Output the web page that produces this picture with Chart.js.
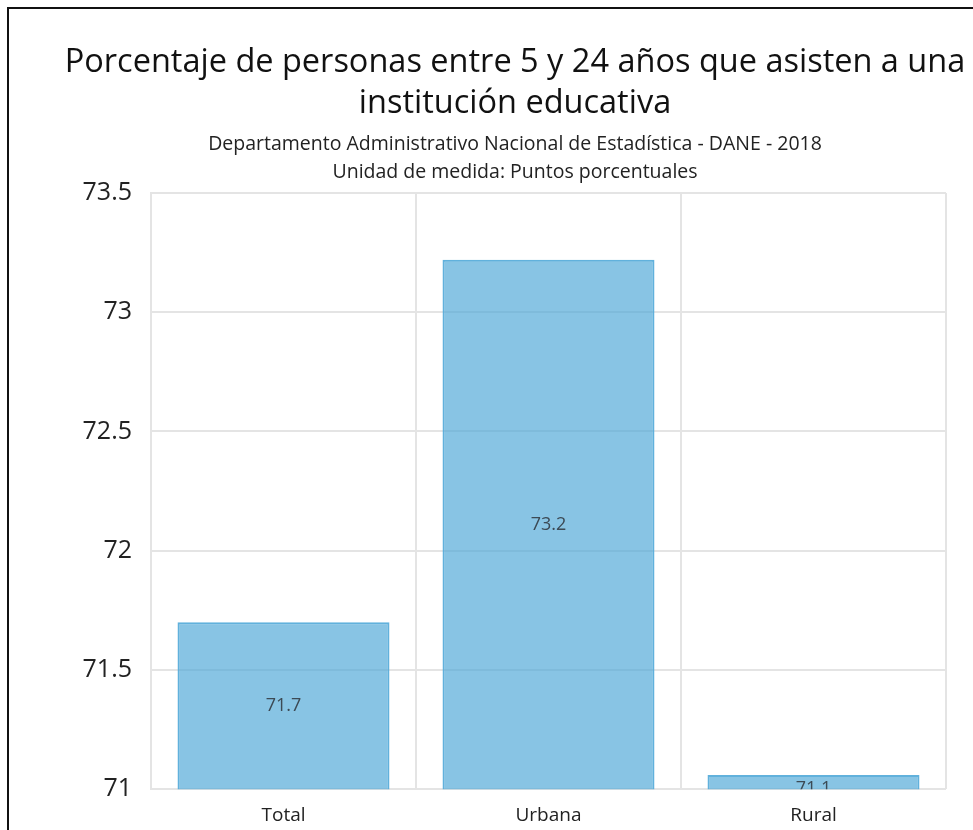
<!DOCTYPE html>
<html lang="es">
<head>
<meta charset="utf-8">
<title>Porcentaje de personas entre 5 y 24 años que asisten a una institución educativa</title>
<script src="https://cdn.jsdelivr.net/npm/chart.js@4.4.1/dist/chart.umd.min.js"></script>
<style>
  html, body { margin: 0; padding: 0; background: #fff; overflow: hidden; }
  .frame {
    position: absolute; left: 7px; top: 7px;
    border-top: 2px solid #111; border-left: 2px solid #111;
    width: 1012px; height: 833px;
  }
  #chart { display: block; }
</style>
</head>
<body>
<div class="frame">
  <canvas id="chart" width="1012" height="833"></canvas>
</div>
<script>
/* Datos */
const categorias = ['Total', 'Urbana', 'Rural'];
const valores = [71.7, 73.22, 71.06];
const ticksY = [71, 71.5, 72, 72.5, 73, 73.5];

const titulo = ['Porcentaje de personas entre 5 y 24 años que asisten a una', 'institución educativa'];
const subtitulo = ['Departamento Administrativo Nacional de Estadística - DANE - 2018', 'Unidad de medida: Puntos porcentuales'];

const fuente = "'Open Sans', 'Noto Sans', sans-serif";

// etiquetas de valor en el centro de la barra (recortadas al area del grafico)
const etiquetasBarras = {
  id: 'etiquetasBarras',
  afterDatasetsDraw: function(chart) {
    const c = chart.ctx;
    const area = chart.chartArea;
    const meta = chart.getDatasetMeta(0);
    c.save();
    c.beginPath();
    c.rect(area.left, area.top, area.right - area.left, area.bottom - area.top);
    c.clip();
    c.font = '18px ' + fuente;
    c.fillStyle = '#3c4a55';
    c.textAlign = 'center';
    c.textBaseline = 'middle';
    meta.data.forEach(function(bar, i) {
      // la base de la barra es el 0, muy por debajo del eje: se corta al borde del area
      const base = Math.min(bar.base, area.bottom);
      let y = (bar.y + base) / 2;
      if (base - bar.y < 18) y = base; // barra muy baja: la etiqueta queda cortada
      c.fillText(valores[i].toFixed(1), bar.x, y);
    });
    c.restore();
  }
};

const ctx = document.getElementById('chart').getContext('2d');
new Chart(ctx, {
  type: 'bar',
  data: {
    labels: categorias,
    datasets: [{
      data: valores,
      backgroundColor: 'rgba(72, 164, 214, 0.65)',
      borderColor: 'rgba(80, 168, 216, 0.9)',
      borderWidth: 2,
      borderSkipped: false,
      categoryPercentage: 1,
      barPercentage: 0.8
    }]
  },
  options: {
    responsive: false,
    animation: false,
    layout: { padding: { top: 0, left: 0, right: 0, bottom: 0 } },
    plugins: {
      legend: { display: false },
      tooltip: { enabled: false },
      title: {
        display: true,
        text: titulo,
        color: '#111',
        font: { family: fuente, size: 32.5, weight: 'normal', lineHeight: 41 / 32.5 },
        padding: { top: 33.5, bottom: 0 }
      },
      subtitle: {
        display: true,
        text: subtitulo,
        color: '#222',
        font: { family: fuente, size: 19.5, weight: 'normal', lineHeight: 28 / 19.5 },
        padding: { top: 5.5, bottom: 7 }
      }
    },
    scales: {
      x: {
        grid: { color: '#e4e4e4', lineWidth: 2, drawTicks: false },
        border: { display: false },
        ticks: { color: '#222', padding: 15, font: { family: fuente, size: 19 } }
      },
      y: {
        min: 71,
        max: 73.5,
        afterBuildTicks: function(scale) {
          scale.ticks = ticksY.map(function(v) { return { value: v }; });
        },
        afterFit: function(scale) { scale.width = 142; },
        grid: { color: '#e4e4e4', lineWidth: 2, drawTicks: false },
        border: { color: '#e4e4e4', width: 2 },
        ticks: {
          color: '#222',
          padding: 19,
          font: { family: fuente, size: 25 },
          callback: function(v) { return String(v); }
        }
      },
      // eje derecho vacio, solo reserva espacio para que el titulo quede centrado en el lienzo
      margen: {
        position: 'right',
        display: true,
        afterFit: function(scale) { scale.width = 75; },
        grid: { display: false },
        border: { display: false },
        ticks: { display: false }
      }
    }
  },
  plugins: [etiquetasBarras]
});
</script>
</body>
</html>
